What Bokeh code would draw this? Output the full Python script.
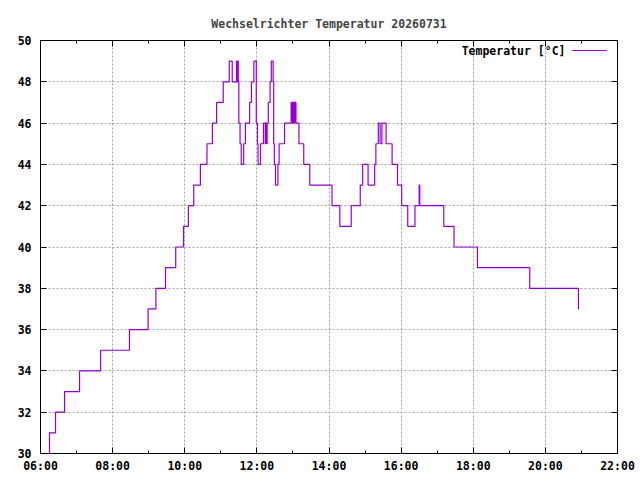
from bokeh.plotting import figure
from bokeh.models import FixedTicker, LinearAxis, Label, BoxAnnotation, Range1d
from bokeh.embed import file_html
from bokeh.resources import INLINE

title_text = "Wechselrichter Temperatur 20260731"
series_name = "Temperatur [°C]"

times = ["06:13", "06:15", "06:25", "06:40", "07:05", "07:40", "08:28", "08:59", "09:12", "09:28",
         "09:45", "09:58", "10:06", "10:15", "10:26", "10:37", "10:46", "10:53", "11:04", "11:14",
         "11:19", "11:26", "11:27", "11:28", "11:29", "11:30", "11:32", "11:34", "11:38", "11:41",
         "11:48", "11:51", "11:55", "11:59", "12:01", "12:02", "12:06", "12:11", "12:14", "12:15",
         "12:16", "12:17", "12:19", "12:22", "12:24", "12:27", "12:28", "12:29", "12:31", "12:35",
         "12:37", "12:46", "12:57", "12:59", "13:00", "13:02", "13:03", "13:05", "13:10", "13:18",
         "13:28", "14:05", "14:18", "14:37", "14:52", "14:56", "15:05", "15:16", "15:18", "15:22",
         "15:25", "15:28", "15:35", "15:45", "15:54", "16:01", "16:11", "16:23", "16:30", "16:31",
         "17:11", "17:28", "18:07", "19:34", "20:55", "20:56"]
temps = [30, 31, 32, 33, 34, 35, 36, 37, 38, 39,
         40, 41, 42, 43, 44, 45, 46, 47, 48, 49,
         48, 49, 48, 49, 48, 46, 45, 44, 45, 46,
         47, 48, 49, 46, 45, 44, 45, 46, 45, 46,
         45, 46, 47, 48, 49, 48, 45, 44, 43, 44,
         45, 46, 47, 46, 47, 46, 47, 46, 45, 44,
         43, 42, 41, 42, 43, 44, 43, 44, 45, 46,
         45, 46, 45, 44, 43, 42, 41, 42, 43, 42,
         41, 40, 39, 38, 37, 37]

x_tick_hours = [6, 8, 10, 12, 14, 16, 18, 20, 22]
x_tick_labels = ["06:00", "08:00", "10:00", "12:00", "14:00", "16:00", "18:00", "20:00", "22:00"]
x_minor_hours = [7, 9, 11, 13, 15, 17, 19, 21]
y_ticks = [30, 32, 34, 36, 38, 40, 42, 44, 46, 48, 50]


def to_hours(s):
    h, m = s.split(":")
    return int(h) + int(m) / 60.0


hours = [to_hours(t) for t in times]

FONT = "DejaVu Sans Mono"
FSIZE = "11.5px"
LINE_COLOR = "#9400D3"

p = figure(width=640, height=480, output_backend="svg", toolbar_location=None,
           x_range=Range1d(6, 22), y_range=Range1d(30, 50),
           min_border_left=40, min_border_right=23, min_border_top=40, min_border_bottom=27,
           background_fill_color="white", border_fill_color="white")

p.title.text = title_text
p.title.align = "center"
p.title.text_font = FONT
p.title.text_font_size = FSIZE
p.title.text_font_style = "bold"
p.title.standoff = 20

p.outline_line_color = "black"
p.outline_line_width = 1

p.step(hours, temps, mode="after", line_color=LINE_COLOR, line_width=1.2)

# grid
p.xgrid.ticker = FixedTicker(ticks=x_tick_hours[1:-1])
p.ygrid.ticker = FixedTicker(ticks=y_ticks[1:-1])
p.grid.grid_line_color = "#a0a0a0"
p.grid.grid_line_dash = "2 2"
p.grid.grid_line_width = 1

overrides = {h: lab for h, lab in zip(x_tick_hours, x_tick_labels)}


def style(ax):
    ax.axis_line_color = None
    ax.major_tick_in = 6
    ax.major_tick_out = 0
    ax.minor_tick_in = 3
    ax.minor_tick_out = 0
    ax.major_tick_line_color = "black"
    ax.minor_tick_line_color = "black"
    ax.major_label_text_font = FONT
    ax.major_label_text_font_size = FSIZE
    ax.major_label_text_font_style = "bold"
    ax.major_label_text_color = "black"


xa = p.xaxis[0]
xa.ticker = FixedTicker(ticks=x_tick_hours, minor_ticks=x_minor_hours)
xa.major_label_overrides = overrides
style(xa)
xa.major_label_standoff = 5

ya = p.yaxis[0]
ya.ticker = FixedTicker(ticks=y_ticks, minor_ticks=[])
style(ya)
ya.major_label_standoff = 9


def mirror(loc, ticks, length):
    # label-free mirror axis: only minor ticks drawn (no major ticks -> no texts)
    ax = LinearAxis(ticker=FixedTicker(ticks=[], minor_ticks=ticks))
    ax.axis_line_color = None
    ax.major_tick_line_color = None
    ax.minor_tick_in = length
    ax.minor_tick_out = 0
    ax.minor_tick_line_color = "black"
    ax.major_label_standoff = 0
    p.add_layout(ax, loc)


mirror("above", x_tick_hours, 6)
mirror("above", x_minor_hours, 3)
mirror("right", y_ticks, 6)

# key (gnuplot style: text then line sample)
p.add_layout(Label(x=525, y=403, x_units="screen", y_units="screen", text=series_name,
                   text_align="right", text_baseline="middle", text_font=FONT,
                   text_font_size=FSIZE, text_font_style="bold", text_color="black"))
p.add_layout(BoxAnnotation(left=532, right=566, bottom=403, top=403.01,
                           left_units="screen", right_units="screen",
                           bottom_units="screen", top_units="screen",
                           fill_color=LINE_COLOR, fill_alpha=1.0,
                           line_color=LINE_COLOR, line_width=1.2, line_alpha=1.0))

open("out.html", "w").write(file_html(p, INLINE))
